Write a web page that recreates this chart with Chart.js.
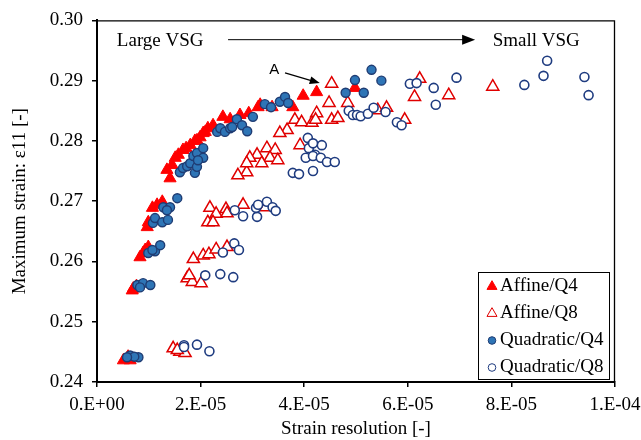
<!DOCTYPE html>
<html>
<head>
<meta charset="utf-8">
<script src="https://cdn.jsdelivr.net/npm/chart.js@4.4.1/dist/chart.umd.min.js"></script>
<style>
html, body { margin: 0; padding: 0; background: #fff; }
</style>
</head>
<body>
<canvas id="chart" width="641" height="440"></canvas>
<script>
// tick labels
var xTickLabels = ['0.E+00', '2.E-05', '4.E-05', '6.E-05', '8.E-05', '1.E-04'];
var yTickLabels = ['0.24', '0.25', '0.26', '0.27', '0.28', '0.29', '0.30'];

var seriesNames = ['Affine/Q4', 'Affine/Q8', 'Quadratic/Q4', 'Quadratic/Q8'];

// Affine/Q4 (filled triangles)
var affineQ4X = [5.1e-6, 5.8e-6, 6.4e-6, 6.0e-6, 6.8e-6, 7.0e-6, 7.6e-6, 8.3e-6, 8.9e-6, 9.9e-6, 9.3e-6,
  9.7e-6, 10.7e-6, 11.6e-6, 12.6e-6, 9.9e-6, 14.1e-6, 13.5e-6, 14.5e-6, 15.1e-6, 15.7e-6, 16.6e-6, 17.2e-6, 18.0e-6,
  18.9e-6, 19.3e-6, 19.9e-6, 20.5e-6, 20.9e-6, 21.4e-6, 22.4e-6, 24.3e-6, 25.7e-6, 27.6e-6, 29.3e-6, 31.1e-6,
  31.5e-6, 33.8e-6, 37.8e-6, 39.8e-6, 42.4e-6, 49.8e-6];
var affineQ4Y = [0.2436, 0.2439, 0.2436, 0.2442, 0.2552, 0.2555, 0.2559, 0.2607, 0.2614, 0.2624, 0.2619,
  0.2657, 0.2689, 0.2694, 0.2699, 0.2665, 0.2738, 0.2752, 0.2760, 0.2772, 0.2777, 0.2785, 0.2788, 0.2793,
  0.2800, 0.2801, 0.2806, 0.2813, 0.2815, 0.2821, 0.2826, 0.2840, 0.2836, 0.2843, 0.2846, 0.2856,
  0.2860, 0.2856, 0.2856, 0.2875, 0.2881, 0.2888];

// Affine/Q8 (open triangles)
var affineQ8X = [14.7e-6, 16.0e-6, 17.0e-6, 15.5e-6, 17.4e-6, 18.4e-6, 20.1e-6, 17.8e-6, 18.6e-6, 20.5e-6,
  21.6e-6, 23.0e-6, 25.1e-6, 21.8e-6, 23.0e-6, 21.4e-6, 22.4e-6, 24.9e-6, 25.1e-6, 28.2e-6, 32.6e-6,
  36.7e-6, 35.3e-6, 39.2e-6, 32.8e-6, 34.4e-6, 30.9e-6, 33.4e-6, 34.9e-6, 29.5e-6, 31.8e-6, 28.9e-6, 27.2e-6, 28.9e-6,
  42.4e-6, 38.2e-6, 39.5e-6, 41.5e-6, 45.3e-6, 46.5e-6, 44.8e-6, 48.4e-6, 45.3e-6, 54.2e-6, 55.9e-6, 59.4e-6,
  61.3e-6, 62.3e-6, 67.9e-6, 76.4e-6, 42.2e-6];
var affineQ8Y = [0.2456, 0.2450, 0.2448, 0.2453, 0.2572, 0.2566, 0.2564, 0.2577, 0.2604, 0.2610,
  0.2612, 0.2620, 0.2624, 0.2689, 0.2679, 0.2665, 0.2665, 0.2687, 0.2680, 0.2694, 0.2690,
  0.2818, 0.2813, 0.2793, 0.2788, 0.2785, 0.2777, 0.2772, 0.2768, 0.2772, 0.2763, 0.2748, 0.2743, 0.2763,
  0.2846, 0.2835, 0.2831, 0.2830, 0.2835, 0.2838, 0.2863, 0.2863, 0.2895, 0.2851, 0.2855, 0.2835,
  0.2873, 0.2903, 0.2876, 0.2890, 0.2835];

// Quadratic/Q4 (filled circles)
var quadQ4X = [6.4e-6, 8.0e-6, 7.2e-6, 5.8e-6, 7.8e-6, 8.9e-6, 10.3e-6, 8.3e-6, 9.9e-6, 11.2e-6, 12.2e-6, 10.7e-6,
  10.8e-6, 11.2e-6, 12.6e-6, 13.7e-6, 12.8e-6, 14.1e-6, 13.5e-6, 15.5e-6,
  16.0e-6, 16.6e-6, 17.4e-6, 18.0e-6, 18.9e-6, 19.3e-6, 18.6e-6, 19.3e-6, 20.5e-6, 20.5e-6, 19.5e-6,
  23.2e-6, 23.8e-6, 24.7e-6, 25.7e-6, 26.1e-6, 27.0e-6, 28.0e-6, 29.0e-6, 30.1e-6, 32.4e-6, 33.6e-6, 35.3e-6,
  36.3e-6, 36.9e-6, 48.0e-6, 51.5e-6, 49.8e-6, 53.0e-6, 54.9e-6];
var quadQ4Y = [0.2444, 0.2441, 0.2442, 0.2441, 0.2561, 0.2564, 0.2561, 0.2557, 0.2614, 0.2617, 0.2627, 0.2619,
  0.2664, 0.2672, 0.2665, 0.2669, 0.2690, 0.2690, 0.2685, 0.2705,
  0.2748, 0.2755, 0.2758, 0.2763, 0.2747, 0.2757, 0.2775, 0.2780, 0.2788, 0.2772, 0.2768,
  0.2815, 0.2821, 0.2815, 0.2821, 0.2823, 0.2836, 0.2826, 0.2816, 0.2840, 0.2861, 0.2856, 0.2865,
  0.2873, 0.2863, 0.2880, 0.2880, 0.2901, 0.2918, 0.2900];

// Quadratic/Q8 (open circles)
var quadQ8X = [16.8e-6, 16.8e-6, 19.3e-6, 21.7e-6, 20.9e-6, 23.8e-6, 26.3e-6, 24.3e-6, 26.5e-6, 27.4e-6,
  26.6e-6, 28.2e-6, 30.9e-6, 30.7e-6, 31.1e-6, 32.8e-6, 33.9e-6, 34.5e-6,
  40.7e-6, 40.9e-6, 42.1e-6, 43.4e-6, 40.3e-6, 41.7e-6, 43.2e-6, 44.4e-6, 45.9e-6, 41.7e-6, 37.8e-6, 39.0e-6, 41.7e-6,
  48.6e-6, 49.4e-6, 50.2e-6, 50.9e-6, 52.3e-6, 53.4e-6, 55.7e-6, 57.9e-6, 58.8e-6, 60.4e-6, 61.7e-6, 65.0e-6,
  65.4e-6, 69.4e-6, 82.5e-6, 86.2e-6, 86.9e-6, 94.1e-6, 94.9e-6];
var quadQ8Y = [0.2461, 0.2458, 0.2462, 0.2451, 0.2577, 0.2579, 0.2574, 0.2615, 0.2630, 0.2619,
  0.2685, 0.2675, 0.2674, 0.2689, 0.2694, 0.2699, 0.2690, 0.2684,
  0.2805, 0.2788, 0.2777, 0.2793, 0.2772, 0.2775, 0.2772, 0.2765, 0.2765, 0.2750, 0.2747, 0.2745, 0.2796,
  0.2850, 0.2843, 0.2843, 0.2841, 0.2845, 0.2855, 0.2848, 0.2831, 0.2826, 0.2895, 0.2896, 0.2888,
  0.2860, 0.2905, 0.2893, 0.2908, 0.2933, 0.2906, 0.2876];

function toPoints(xs, ys) {
  return xs.map(function (x, i) { return { x: x, y: ys[i] }; });
}

var SERIF = '"Liberation Serif", "Times New Roman", serif';

// frame on top/right, annotations and the boxed legend
var extras = {
  id: 'extras',
  afterDraw: function (chart) {
    var ctx = chart.ctx, a = chart.chartArea;
    var xs = chart.scales.x, ys = chart.scales.y;
    ctx.save();

    // top + right border of the plot
    ctx.strokeStyle = '#000';
    ctx.lineWidth = 1.3;
    ctx.beginPath();
    ctx.moveTo(a.left, a.top + 0.5);
    ctx.lineTo(a.right - 0.5, a.top + 0.5);
    ctx.lineTo(a.right - 0.5, a.bottom);
    ctx.stroke();

    // Large VSG -> Small VSG
    var vy = ys.getPixelForValue(0.2968);
    var vx1 = xs.getPixelForValue(2.53e-5), vx2 = xs.getPixelForValue(7.3e-5);
    ctx.fillStyle = '#000';
    ctx.font = '19px ' + SERIF;
    ctx.textBaseline = 'middle';
    ctx.textAlign = 'center';
    ctx.fillText('Large VSG', xs.getPixelForValue(1.22e-5), vy + 1);
    ctx.fillText('Small VSG', xs.getPixelForValue(8.48e-5), vy + 1);
    ctx.lineWidth = 1;
    ctx.beginPath();
    ctx.moveTo(vx1, vy);
    ctx.lineTo(vx2 - 10, vy);
    ctx.stroke();
    ctx.beginPath();
    ctx.moveTo(vx2, vy);
    ctx.lineTo(vx2 - 13, vy - 5);
    ctx.lineTo(vx2 - 13, vy + 5);
    ctx.closePath();
    ctx.fill();

    // "A" label with arrow
    ctx.font = '15px "Liberation Sans", Arial, sans-serif';
    ctx.fillText('A', xs.getPixelForValue(3.42e-5), ys.getPixelForValue(0.2918));
    var ax1 = xs.getPixelForValue(3.63e-5), ay1 = ys.getPixelForValue(0.2913);
    var ax2 = xs.getPixelForValue(4.3e-5), ay2 = ys.getPixelForValue(0.2896);
    var ang = Math.atan2(ay2 - ay1, ax2 - ax1);
    ctx.lineWidth = 1.3;
    ctx.beginPath();
    ctx.moveTo(ax1, ay1);
    ctx.lineTo(ax2 - 8 * Math.cos(ang), ay2 - 8 * Math.sin(ang));
    ctx.stroke();
    ctx.beginPath();
    ctx.moveTo(ax2, ay2);
    ctx.lineTo(ax2 - 10 * Math.cos(ang) + 4 * Math.sin(ang), ay2 - 10 * Math.sin(ang) - 4 * Math.cos(ang));
    ctx.lineTo(ax2 - 10 * Math.cos(ang) - 4 * Math.sin(ang), ay2 - 10 * Math.sin(ang) + 4 * Math.cos(ang));
    ctx.closePath();
    ctx.fill();

    // legend box
    var w = 131, h = 107;
    var x0 = a.right - 6 - w, y0 = a.bottom - 3 - h;
    ctx.fillStyle = '#fff';
    ctx.fillRect(x0, y0, w, h);
    ctx.strokeStyle = '#000';
    ctx.lineWidth = 1;
    ctx.strokeRect(x0 + 0.5, y0 + 0.5, w, h);
    ctx.font = '19px ' + SERIF;
    ctx.textAlign = 'left';
    chart.data.datasets.forEach(function (ds, i) {
      var cy = y0 + 13.5 + i * 27;
      ctx.fillStyle = ds.backgroundColor;
      ctx.strokeStyle = ds.borderColor;
      Chart.helpers.drawPoint(ctx, {
        pointStyle: ds.pointStyle,
        radius: ds.pointStyle === 'triangle' ? 5.8 : 3.8,
        borderWidth: ds.borderWidth,
        rotation: 0
      }, x0 + 14, cy + 1);
      ctx.fillStyle = '#000';
      ctx.fillText(ds.label, x0 + 22, cy + 1);
    });
    ctx.restore();
  }
};

new Chart(document.getElementById('chart'), {
  type: 'scatter',
  data: {
    datasets: [
      { label: seriesNames[0], data: toPoints(affineQ4X, affineQ4Y), pointStyle: 'triangle', pointRadius: 7,
        backgroundColor: '#ff0000', borderColor: '#ff0000', borderWidth: 1, order: 4 },
      { label: seriesNames[1], data: toPoints(affineQ8X, affineQ8Y), pointStyle: 'triangle', pointRadius: 7,
        backgroundColor: '#ffffff', borderColor: '#e00000', borderWidth: 1.5, order: 3 },
      { label: seriesNames[2], data: toPoints(quadQ4X, quadQ4Y), pointStyle: 'circle', pointRadius: 4.5,
        backgroundColor: '#2e75b6', borderColor: '#1f3c73', borderWidth: 1.4, order: 2 },
      { label: seriesNames[3], data: toPoints(quadQ8X, quadQ8Y), pointStyle: 'circle', pointRadius: 4.5,
        backgroundColor: '#ffffff', borderColor: '#1f3c80', borderWidth: 1.6, order: 1 }
    ]
  },
  options: {
    responsive: false,
    animation: false,
    devicePixelRatio: 1,
    events: [],
    layout: { padding: { top: 20, right: 26, bottom: 0, left: 0 } },
    plugins: { legend: { display: false }, tooltip: { enabled: false } },
    scales: {
      x: {
        type: 'linear', min: 0, max: 1e-4,
        afterFit: function (s) { s.height = 58; s.paddingLeft = 0; s.paddingRight = 0; },
        afterBuildTicks: function (s) {
          s.ticks = xTickLabels.map(function (t, i) { return { value: i * 2e-5 }; });
        },
        ticks: {
          color: '#000', padding: 7, maxRotation: 0,
          font: { family: SERIF, size: 19 },
          callback: function (v, i) { return xTickLabels[i]; }
        },
        grid: { drawOnChartArea: false, drawTicks: true, tickLength: 5, color: '#000', lineWidth: 1.5 },
        border: { display: true, color: '#000', width: 2 },
        title: { display: true, text: 'Strain resolution [-]', color: '#000',
          font: { family: SERIF, size: 19, lineHeight: 1 }, padding: { top: 0, bottom: 1 } }
      },
      y: {
        type: 'linear', min: 0.24, max: 0.30,
        afterFit: function (s) { s.width = 97; },
        afterBuildTicks: function (s) {
          s.ticks = yTickLabels.map(function (t) { return { value: parseFloat(t) }; });
        },
        ticks: {
          color: '#000', padding: 9,
          font: { family: SERIF, size: 19 },
          callback: function (v, i) { return yTickLabels[i]; }
        },
        grid: { drawOnChartArea: false, drawTicks: true, tickLength: 5, color: '#000', lineWidth: 1.5 },
        border: { display: true, color: '#000', width: 2 },
        title: { display: true, text: 'Maximum strain: \u03b511 [-]', color: '#000',
          font: { family: SERIF, size: 19, lineHeight: 1 }, padding: { top: 11, bottom: 0 } }
      }
    }
  },
  plugins: [extras]
});
</script>
</body>
</html>
